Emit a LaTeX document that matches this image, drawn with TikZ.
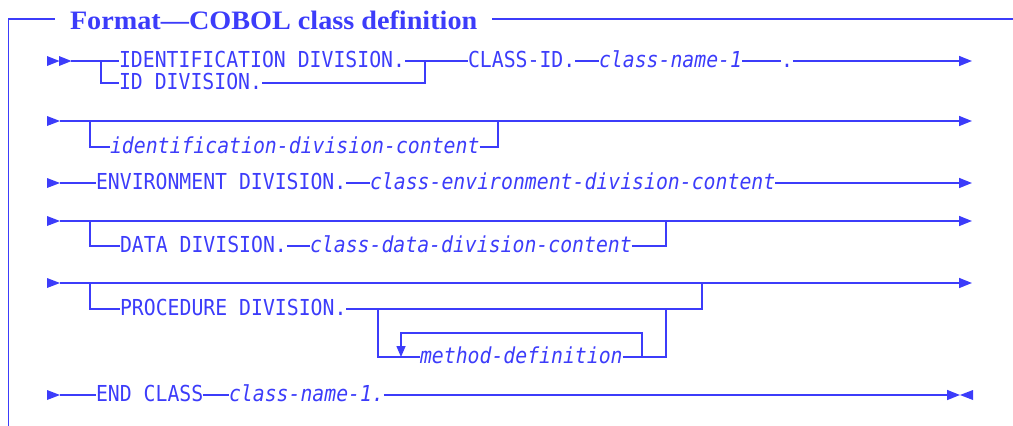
\documentclass[tikz,border=0pt]{standalone}
\usepackage{fontspec}
\setmonofont[FakeStretch=0.9]{DejaVu Sans Mono}
\newfontfamily\titlefont[FakeStretch=1.06]{Liberation Serif}
\usetikzlibrary{arrows.meta}
\definecolor{ibm}{RGB}{60,60,250}
\begin{document}
\begin{tikzpicture}[x=1pt,y=-1pt,line width=1.5pt,draw=ibm,fill=ibm,
  kw/.style={font=\ttfamily\fontsize{22}{24}\selectfont,inner sep=0pt,outer sep=0pt,
             anchor=west,text height=12pt,text depth=0pt,text=ibm},
  var/.style={kw,font=\ttfamily\itshape\fontsize{22}{24}\selectfont},
  arr/.style={-{Triangle[length=13pt,width=10pt]}},
  arrs/.style={-{Triangle[length=11pt,width=9pt]}},
  ttl/.style={font=\titlefont\bfseries\fontsize{26.6}{30}\selectfont,inner sep=0pt,
             outer sep=0pt,anchor=base west,text=ibm}]
\useasboundingbox (0,0) rectangle (1013,426);
% frame and title
\node[ttl] (title) at (70,29.3) {Format—COBOL class definition};
\coordinate (fr0) at (8.5,426);
\coordinate (fr1) at (8.5,19);
\coordinate (fr2) at (55,19);
\coordinate (fr3) at (492,19);
\coordinate (fr4) at (1013,19);
\draw (fr0) -- (fr1) -- (fr2);
\draw (fr3) -- (fr4);
% row 1
\coordinate (r1a) at (71,61);
\coordinate (r1b) at (101,61);
\coordinate (r1c) at (101,83);
\coordinate (r1d) at (425,61);
\coordinate (r1e) at (425,83);
\coordinate (r1end) at (972,61);
\node[kw] (idd) at (119,61) {IDENTIFICATION DIVISION.};
\node[kw] (id) at (119,83) {ID DIVISION.};
\node[kw] (cid) at (468,61) {CLASS-ID.};
\node[var] (cn) at (599,61) {class-name-1};
\node[kw] (dot) at (781,61) {.};
\fill (47,56) -- (59.5,61) -- (47,66) -- cycle;
\fill (59,56) -- (71.5,61) -- (59,66) -- cycle;
\draw (r1a) -- (idd.west);
\draw (r1b) -- (r1c) -- (id.west);
\draw (idd.east) -- (cid.west);
\draw (id.east) -- (r1e) -- (r1d);
\draw (cid.east) -- (cn.west);
\draw (cn.east) -- (dot.west);
\draw[arr] (dot.east) -- (r1end);
% row 2
\coordinate (r2a) at (60,121);
\coordinate (r2b) at (90,121);
\coordinate (r2c) at (90,147);
\coordinate (r2d) at (498,147);
\coordinate (r2e) at (498,121);
\coordinate (r2end) at (972,121);
\node[var] (idc) at (110,147) {identification-division-content};
\fill (47,116) -- (60,121) -- (47,126) -- cycle;
\draw[arr] (r2a) -- (r2end);
\draw (r2b) -- (r2c) -- (idc.west);
\draw (idc.east) -- (r2d) -- (r2e);
% row 3
\coordinate (r3a) at (60,183);
\coordinate (r3end) at (972,183);
\node[kw] (env) at (96,183) {ENVIRONMENT DIVISION.};
\node[var] (cenv) at (370,183) {class-environment-division-content};
\fill (47,178) -- (60,183) -- (47,188) -- cycle;
\draw (r3a) -- (env.west);
\draw (env.east) -- (cenv.west);
\draw[arr] (cenv.east) -- (r3end);
% row 4
\coordinate (r4a) at (60,221);
\coordinate (r4b) at (90,221);
\coordinate (r4c) at (90,246);
\coordinate (r4d) at (666,246);
\coordinate (r4e) at (666,221);
\coordinate (r4end) at (972,221);
\node[kw] (data) at (120,246) {DATA DIVISION.};
\node[var] (cdata) at (310,246) {class-data-division-content};
\fill (47,216) -- (60,221) -- (47,226) -- cycle;
\draw[arr] (r4a) -- (r4end);
\draw (r4b) -- (r4c) -- (data.west);
\draw (data.east) -- (cdata.west);
\draw (cdata.east) -- (r4d) -- (r4e);
% row 5
\coordinate (r5a) at (60,283);
\coordinate (r5b) at (90,283);
\coordinate (r5c) at (90,309);
\coordinate (r5d) at (702,309);
\coordinate (r5e) at (702,283);
\coordinate (r5end) at (972,283);
\coordinate (m1) at (378,309);
\coordinate (m2) at (378,357);
\coordinate (m3) at (666,357);
\coordinate (m4) at (666,309);
\coordinate (l1) at (642,357);
\coordinate (l2) at (642,333);
\coordinate (l3) at (401,333);
\coordinate (l4) at (401,357);
\node[kw] (proc) at (120,309) {PROCEDURE DIVISION.};
\node[var] (meth) at (420,357) {method-definition};
\fill (47,278) -- (60,283) -- (47,288) -- cycle;
\draw[arr] (r5a) -- (r5end);
\draw (r5b) -- (r5c) -- (proc.west);
\draw (proc.east) -- (r5d) -- (r5e);
\draw (m1) -- (m2) -- (meth.west);
\draw (meth.east) -- (m3) -- (m4);
\draw[arrs] (l1) -- (l2) -- (l3) -- (l4);
% row 6
\coordinate (r6a) at (60,395);
\coordinate (r6end) at (960,395);
\node[kw] (endc) at (96,395) {END CLASS};
\node[var] (cn2) at (229,395) {class-name-1.};
\fill (47,390) -- (60,395) -- (47,400) -- cycle;
\draw (r6a) -- (endc.west);
\draw (endc.east) -- (cn2.west);
\draw[arr] (cn2.east) -- (r6end);
\fill (973,390) -- (960,395) -- (973,400) -- cycle;
\end{tikzpicture}
\end{document}
